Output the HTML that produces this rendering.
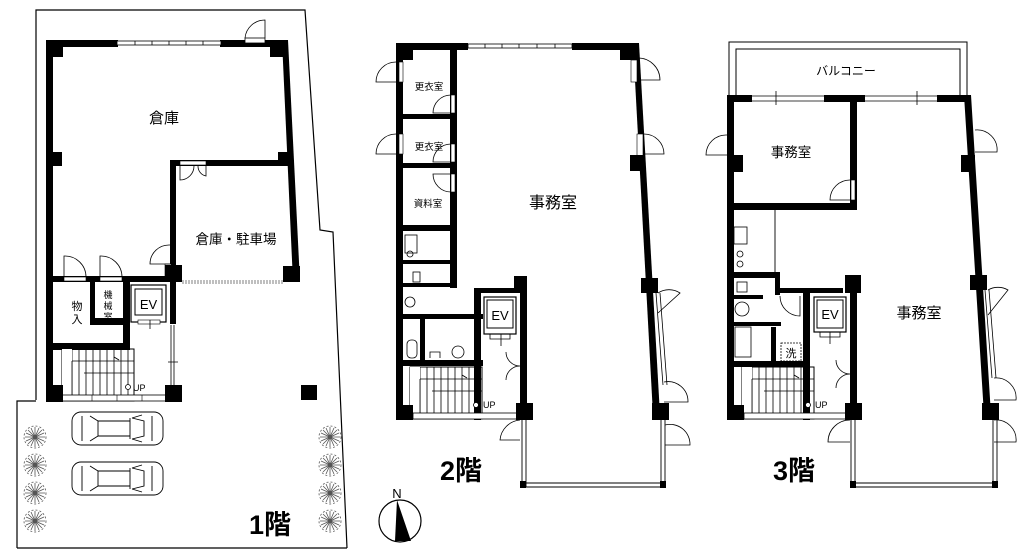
<!DOCTYPE html>
<html><head><meta charset="utf-8"><style>
html,body{margin:0;padding:0;background:#fff}
svg{display:block}
text{font-family:"Liberation Sans","Noto Sans CJK JP",sans-serif;fill:#000}
</style></head><body>
<svg width="1023" height="550" viewBox="0 0 1023 550" xmlns="http://www.w3.org/2000/svg">
<defs>
<g id="stair">
<rect x="0" y="0" width="72" height="52" fill="none" stroke="#000" stroke-width="1"/>
<path d="M10 0V52M17 0V52M24 0V52M31 0V52M38 0V52M45 0V52M52 0V52M59 0V52M66 0V52" stroke="#000" stroke-width="0.8"/>
<rect x="0" y="0" width="10" height="52" fill="#fff"/>
<path d="M10 12H72M22 24H72M10 12V52" stroke="#000" stroke-width="0.8" fill="none"/>
<path d="M52 8l5 3" stroke="#000"/>
<circle cx="66" cy="38" r="2.5" fill="#fff" stroke="#000" stroke-width="0.8"/>
</g>
<g id="tree" stroke="#555" stroke-width="0.8" fill="none">
<circle r="11" stroke-dasharray="2 2"/>
<path d="M-10 0H10M0 -10V10M-7 -7L7 7M7 -7L-7 7M-4 -9L4 9M4 -9L-4 9M-9 -4L9 4M9 -4L-9 4"/>
</g>
<g id="car" stroke="#000" stroke-width="0.9" fill="none">
<rect x="0" y="0" width="91" height="33" rx="9"/>
<path d="M18 4L26 9V24L18 29M10 4V29M60 6L70 3M60 27L70 30M58 6V27M60 6L72 9V24L60 27M26 9H58M26 24H58M80 4V29"/>
</g>
</defs>

<!-- ============ FLOOR 1 ============ -->
<path d="M36 400V10H305L320 230L333 232L347 548M17 548V401H36M17 548H347" fill="none" stroke="#000" stroke-width="1.2"/>
<rect x="46" y="40" width="72" height="7"/>
<rect x="220" y="40" width="66" height="7"/>
<rect x="117" y="41" width="104" height="4" fill="#fff" stroke="#000" stroke-width="0.8"/>
<path d="M135 41v4M152 41v4M169 41v4M186 41v4M203 41v4" stroke="#000" stroke-width="0.8"/>
<rect x="245" y="38" width="20" height="5" fill="#fff" stroke="#000" stroke-width="0.8"/>
<path d="M265 38V20A20 20 0 0 0 245 38" fill="none" stroke="#000" stroke-width="0.8"/>
<rect x="46" y="40" width="7" height="362"/>
<rect x="46" y="40" width="17" height="17"/>
<rect x="270" y="40" width="17" height="17"/>
<polygon points="282,40 288,40 300,282 293,282"/>
<rect x="46" y="152" width="16" height="14"/>
<rect x="278" y="152" width="12" height="14"/>
<rect x="170" y="160" width="124" height="6"/>
<rect x="180" y="161" width="26" height="4" fill="#fff" stroke="#000" stroke-width="0.6"/>
<path d="M180 166v14a14 14 0 0 0 14 -14M206 166v10a10 10 0 0 1 -8 -10" fill="none" stroke="#000" stroke-width="0.8"/>
<rect x="170" y="160" width="6" height="135"/>
<rect x="165" y="264" width="6" height="14" fill="#fff" stroke="#000" stroke-width="0.6"/>
<path d="M170 245A19 19 0 0 0 150 264H170" fill="none" stroke="#000" stroke-width="0.8"/>
<rect x="283" y="266" width="17" height="16"/>
<path d="M182 281H283M182 283H283" stroke="#000" stroke-width="0.6" stroke-dasharray="2 1"/>
<rect x="46" y="276" width="130" height="6"/>
<rect x="64" y="277" width="22" height="4" fill="#fff" stroke="#000" stroke-width="0.6"/>
<rect x="100" y="277" width="22" height="4" fill="#fff" stroke="#000" stroke-width="0.6"/>
<path d="M64 277V256A21 21 0 0 1 86 277M100 277V256A21 21 0 0 1 122 277" fill="none" stroke="#000" stroke-width="0.8"/>
<rect x="165" y="265" width="17" height="17"/>
<rect x="90" y="282" width="5" height="42"/>
<rect x="90" y="318" width="40" height="7"/>
<rect x="123" y="282" width="7" height="66"/>
<rect x="170" y="282" width="6" height="42"/>
<rect x="53" y="343" width="77" height="7"/>
<rect x="131" y="285" width="35" height="37" fill="none" stroke="#000" stroke-width="1.2"/>
<rect x="135" y="289" width="27" height="26" fill="none" stroke="#000" stroke-width="1"/>
<text x="148.5" y="309" font-size="13" text-anchor="middle">EV</text>
<rect x="138" y="320" width="22" height="4" fill="#fff" stroke="#000" stroke-width="0.6"/>
<path d="M150 320v9" stroke="#000" stroke-width="0.8"/>
<path d="M171 325V395M174 325V395M168 362h10" stroke="#000" stroke-width="0.8"/>
<use href="#stair" x="62" y="349"/>
<rect x="53" y="395" width="125" height="6" fill="#fff" stroke="#000" stroke-width="0.8"/>
<path d="M92 395v6M117 395v6M142 395v6" stroke="#000" stroke-width="0.6"/>
<rect x="46" y="385" width="17" height="17"/>
<rect x="165" y="385" width="17" height="17"/>
<text x="133" y="391" font-size="9">UP</text>
<rect x="301" y="385" width="16" height="15"/>
<text x="164" y="123" font-size="15" text-anchor="middle">倉庫</text>
<text x="236" y="244" font-size="13.5" text-anchor="middle">倉庫・駐車場</text>
<text x="77" y="310" font-size="11" text-anchor="middle">物</text>
<text x="77" y="323" font-size="11" text-anchor="middle">入</text>
<text x="108" y="298" font-size="9" text-anchor="middle">機</text>
<text x="108" y="309" font-size="9" text-anchor="middle">械</text>
<text x="108" y="320" font-size="9" text-anchor="middle">室</text>
<use href="#tree" x="35" y="437"/><use href="#tree" x="35" y="465"/><use href="#tree" x="35" y="493"/><use href="#tree" x="35" y="521"/>
<use href="#tree" x="330" y="437"/><use href="#tree" x="330" y="465"/><use href="#tree" x="330" y="493"/><use href="#tree" x="330" y="521"/>
<use href="#car" x="72" y="412"/><use href="#car" x="72" y="462"/>
<text x="249" y="534" font-size="27" font-weight="bold">1階</text>

<circle cx="400" cy="521" r="21" fill="none" stroke="#000" stroke-width="1.2"/>
<polygon points="397,500 411,541 395,541" fill="#000"/>
<text x="397" y="498" font-size="13" text-anchor="middle">N</text>

<!-- ============ FLOOR 2 ============ -->
<rect x="396" y="43" width="72" height="7"/>
<rect x="572" y="43" width="65" height="7"/>
<rect x="468" y="44" width="104" height="4" fill="#fff" stroke="#000" stroke-width="0.8"/>
<path d="M485 44v4M502 44v4M519 44v4M537 44v4M555 44v4" stroke="#000" stroke-width="0.8"/>
<rect x="396" y="43" width="17" height="17"/>
<rect x="620" y="43" width="17" height="17"/>
<rect x="396" y="43" width="7" height="377"/>
<polygon points="633,43 639,43 660,415 653,415"/>
<rect x="631" y="60" width="6" height="22" fill="#fff" stroke="#000" stroke-width="0.6"/>
<path d="M638 58A22 22 0 0 1 660 80H638" fill="none" stroke="#000" stroke-width="0.8"/>
<rect x="637" y="134" width="6" height="22" fill="#fff" stroke="#000" stroke-width="0.6"/>
<path d="M644 134A20 20 0 0 1 664 154H644" fill="none" stroke="#000" stroke-width="0.8"/>
<rect x="630" y="155" width="14" height="16"/>
<rect x="641" y="278" width="17" height="15"/>
<path d="M656 293L663 385M660 293L667 385" stroke="#000" stroke-width="0.8"/>
<path d="M658 293A20 20 0 0 1 680 293L658 313" fill="none" stroke="#000" stroke-width="0.8"/>
<path d="M664 382A20 20 0 0 1 688 402H664" fill="none" stroke="#000" stroke-width="0.8"/>
<rect x="652" y="403" width="17" height="17"/>
<path d="M665 425A20 20 0 0 1 690 445H665" fill="none" stroke="#000" stroke-width="0.8"/>
<path d="M396 62A20 20 0 0 0 376 82H396M396 134A20 20 0 0 0 376 154H396" fill="none" stroke="#000" stroke-width="0.8"/>
<rect x="399" y="62" width="4" height="20" fill="#fff" stroke="#000" stroke-width="0.6"/>
<rect x="399" y="134" width="4" height="20" fill="#fff" stroke="#000" stroke-width="0.6"/>
<rect x="450" y="50" width="7" height="238"/>
<rect x="403" y="114" width="50" height="5"/>
<rect x="403" y="163" width="50" height="5"/>
<rect x="403" y="225" width="50" height="6"/>
<rect x="451" y="95" width="4" height="18" fill="#fff" stroke="#000" stroke-width="0.6"/>
<path d="M451 95A18 18 0 0 0 433 113H451" fill="none" stroke="#000" stroke-width="0.8"/>
<rect x="451" y="144" width="4" height="18" fill="#fff" stroke="#000" stroke-width="0.6"/>
<path d="M451 144A18 18 0 0 0 433 162H451" fill="none" stroke="#000" stroke-width="0.8"/>
<rect x="451" y="174" width="4" height="18" fill="#fff" stroke="#000" stroke-width="0.6"/>
<path d="M451 192A18 18 0 0 1 433 174H451" fill="none" stroke="#000" stroke-width="0.8"/>
<text x="429" y="90" font-size="9.5" text-anchor="middle">更衣室</text>
<text x="429" y="150" font-size="9.5" text-anchor="middle">更衣室</text>
<text x="428" y="207" font-size="9.5" text-anchor="middle">資料室</text>
<rect x="405" y="235" width="12" height="18" fill="none" stroke="#000" stroke-width="0.8"/>
<circle cx="410" cy="254" r="3" fill="none" stroke="#000" stroke-width="0.8"/>
<rect x="403" y="260" width="50" height="4"/>
<rect x="403" y="283" width="50" height="4"/>
<rect x="403" y="314" width="80" height="5"/>
<rect x="403" y="360" width="80" height="6"/>
<rect x="420" y="314" width="5" height="50"/>
<rect x="413" y="272" width="7" height="10" fill="none" stroke="#000" stroke-width="0.8"/>
<circle cx="410" cy="302" r="5" fill="none" stroke="#000" stroke-width="0.8"/>
<rect x="407" y="340" width="10" height="18" rx="4" fill="none" stroke="#000" stroke-width="0.8"/>
<circle cx="458" cy="352" r="6" fill="none" stroke="#000" stroke-width="0.8"/>
<path d="M430 358v-6h10v6" fill="none" stroke="#000" stroke-width="0.8"/>
<rect x="474" y="288" width="7" height="132"/>
<rect x="474" y="288" width="40" height="5"/>
<rect x="514" y="276" width="13" height="17"/>
<rect x="520" y="276" width="7" height="144"/>
<rect x="484" y="297" width="32" height="37" fill="none" stroke="#000" stroke-width="1.2"/>
<rect x="487" y="300" width="26" height="28" fill="none" stroke="#000" stroke-width="1"/>
<text x="500" y="320" font-size="13" text-anchor="middle">EV</text>
<path d="M490 334h20v5h-20zM501 334v12" fill="none" stroke="#000" stroke-width="0.8"/>
<path d="M520 366A14 14 0 0 1 506 352M520 366A14 14 0 0 0 506 380" fill="none" stroke="#000" stroke-width="0.8"/>
<use href="#stair" x="410" y="367"/>
<rect x="396" y="405" width="17" height="15"/>
<rect x="413" y="413" width="106" height="6" fill="#fff" stroke="#000" stroke-width="0.8"/>
<rect x="516" y="403" width="17" height="17"/>
<text x="483" y="408" font-size="9">UP</text>
<path d="M520 420A22 22 0 0 0 500 440H520" fill="none" stroke="#000" stroke-width="0.8"/>
<path d="M522 420V487M526 420V487M661 420V487M665 420V487M522 483H665M522 487H665" stroke="#000" stroke-width="0.9"/>
<rect x="520" y="481" width="6" height="7"/><rect x="660" y="481" width="6" height="7"/>
<text x="553" y="208" font-size="16" text-anchor="middle">事務室</text>
<text x="440" y="480" font-size="27" font-weight="bold">2階</text>

<!-- ============ FLOOR 3 ============ -->
<path d="M729 95V42H967V95M736 95V49H960V95" fill="none" stroke="#000" stroke-width="1"/>
<text x="846" y="75" font-size="12" text-anchor="middle">バルコニー</text>
<rect x="727" y="95" width="25" height="7"/>
<rect x="824" y="95" width="41" height="7"/>
<rect x="937" y="95" width="33" height="7"/>
<path d="M752 96H824M752 101H824M865 96H937M865 101H937M776 91v14M917 91v14" stroke="#000" stroke-width="0.8"/>
<rect x="727" y="95" width="7" height="325"/>
<polygon points="964,95 971,95 991,415 984,415"/>
<rect x="727" y="155" width="16" height="17"/>
<path d="M727 135A20 20 0 0 0 706 155H727" fill="none" stroke="#000" stroke-width="0.8"/>
<rect x="850" y="102" width="7" height="108"/>
<rect x="733" y="203" width="124" height="7"/>
<path d="M851 180A20 20 0 0 0 830 200H851" fill="none" stroke="#000" stroke-width="0.8"/>
<rect x="851" y="180" width="4" height="20" fill="#fff" stroke="#000" stroke-width="0.6"/>
<text x="791" y="157" font-size="13.5" text-anchor="middle">事務室</text>
<path d="M975 130A20 20 0 0 1 997 152H975" fill="none" stroke="#000" stroke-width="0.8"/>
<rect x="961" y="155" width="14" height="17"/>
<rect x="970" y="275" width="17" height="15"/>
<path d="M985 290L992 378M989 290L996 378" stroke="#000" stroke-width="0.8"/>
<path d="M988 290A20 20 0 0 1 1008 290L988 315" fill="none" stroke="#000" stroke-width="0.8"/>
<path d="M994 378A20 20 0 0 1 1016 400H994" fill="none" stroke="#000" stroke-width="0.8"/>
<rect x="982" y="403" width="17" height="17"/>
<path d="M994 420A20 20 0 0 1 1016 442H994" fill="none" stroke="#000" stroke-width="0.8"/>
<path d="M775 210V275" stroke="#000" stroke-width="0.9"/>
<rect x="734" y="227" width="13" height="17" fill="none" stroke="#000" stroke-width="0.8"/>
<circle cx="740" cy="254" r="3" fill="none" stroke="#000" stroke-width="0.8"/>
<circle cx="740" cy="264" r="3" fill="none" stroke="#000" stroke-width="0.8"/>
<rect x="733" y="272" width="47" height="6"/>
<rect x="775" y="272" width="5" height="23"/>
<rect x="780" y="288" width="30" height="5"/>
<rect x="737" y="282" width="10" height="10" fill="none" stroke="#000" stroke-width="0.8"/>
<rect x="733" y="295" width="30" height="4"/>
<circle cx="742" cy="309" r="7" fill="none" stroke="#000" stroke-width="0.8"/>
<rect x="733" y="322" width="48" height="4"/>
<rect x="735" y="327" width="16" height="30" fill="none" stroke="#000" stroke-width="0.8"/>
<rect x="771" y="327" width="5" height="35"/>
<rect x="781" y="343" width="20" height="18" fill="none" stroke="#000" stroke-width="0.8" stroke-dasharray="2 1"/>
<text x="791" y="357" font-size="11" text-anchor="middle">洗</text>
<path d="M780 296A20 20 0 0 0 800 316V296" fill="none" stroke="#000" stroke-width="0.8"/>
<rect x="733" y="361" width="77" height="6"/>
<rect x="803" y="288" width="7" height="132"/>
<rect x="803" y="288" width="40" height="5"/>
<rect x="845" y="275" width="16" height="18"/>
<rect x="850" y="275" width="7" height="145"/>
<rect x="814" y="297" width="32" height="35" fill="none" stroke="#000" stroke-width="1.2"/>
<rect x="817" y="300" width="26" height="28" fill="none" stroke="#000" stroke-width="1"/>
<text x="830" y="319" font-size="13" text-anchor="middle">EV</text>
<path d="M820 332h20v5h-20zM830 332v12" fill="none" stroke="#000" stroke-width="0.8"/>
<path d="M850 374A14 14 0 0 1 836 360M850 374A14 14 0 0 0 836 388" fill="none" stroke="#000" stroke-width="0.8"/>
<use href="#stair" x="742" y="367"/>
<rect x="727" y="405" width="17" height="15"/>
<rect x="744" y="413" width="106" height="6" fill="#fff" stroke="#000" stroke-width="0.8"/>
<rect x="845" y="403" width="17" height="17"/>
<text x="815" y="408" font-size="9">UP</text>
<path d="M850 420A22 22 0 0 0 828 442H850" fill="none" stroke="#000" stroke-width="0.8"/>
<path d="M851 420V487M855 420V487M993 420V487M997 420V487M851 483H997M851 487H997" stroke="#000" stroke-width="0.9"/>
<rect x="850" y="481" width="6" height="7"/><rect x="992" y="481" width="6" height="7"/>
<text x="919" y="318" font-size="15" text-anchor="middle">事務室</text>
<text x="773" y="480" font-size="27" font-weight="bold">3階</text>
</svg>
</body></html>
